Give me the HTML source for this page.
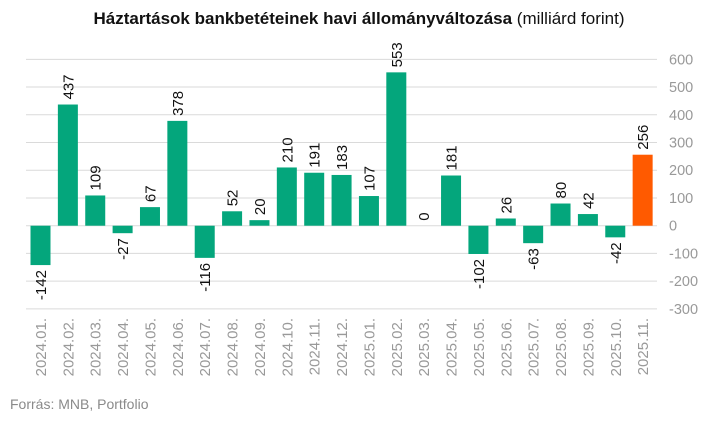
<!DOCTYPE html>
<html><head><meta charset="utf-8"><style>
body{margin:0;background:#fff;width:719px;height:416px;overflow:hidden;font-family:"Liberation Sans",sans-serif}
</style></head><body>
<svg width="719" height="416" xmlns="http://www.w3.org/2000/svg" font-family="Liberation Sans, sans-serif">
<text x="359" y="24" text-anchor="middle" font-size="17" fill="#111"><tspan font-weight="bold">Háztartások bankbetéteinek havi állományváltozása</tspan> (milliárd forint)</text>
<text x="10" y="409" font-size="14" fill="#8a8a8a">Forrás: MNB, Portfolio</text>
</svg>
<script>
(function(){
var vals=[-142,437,109,-27,67,378,-116,52,20,210,191,183,107,553,0,181,-102,26,-63,80,42,-42,256];
var labs=[];for(var i=0;i<23;i++){var yy=2024+Math.floor(i/12),m=i%12+1;labs.push(yy+"."+(m<10?"0":"")+m+".");}
var ns="http://www.w3.org/2000/svg",svg=document.querySelector("svg");
var z=225.7,k=0.2773;
function el(t,a,txt){var e=document.createElementNS(ns,t);for(var q in a)e.setAttribute(q,a[q]);if(txt!=null)e.textContent=txt;svg.appendChild(e);return e;}
for(var v=-300;v<=600;v+=100){var y=z-v*k;el("line",{x1:26,x2:657,y1:y,y2:y,stroke:"#dadada","stroke-width":1});
el("text",{x:669,y:y+5,"font-size":14.5,fill:"#999"},v);}
for(var i=0;i<23;i++){var c=40.5+i*27.37,val=vals[i],h=Math.abs(val)*k,by=val>=0?z-h:z;
if(val!==0)el("rect",{x:c-10,y:by,width:20,height:h,fill:i==22?"#ff5a00":"#04a67c"});
var ly,anchor;if(val>=0){ly=z-h-5;anchor="start";}else{ly=z+h+5;anchor="end";}
el("text",{x:0,y:0,"font-size":15,fill:"#111","text-anchor":anchor,transform:"translate("+(c+5.5)+","+ly+") rotate(-90)"},val);
el("text",{x:0,y:0,"font-size":15,fill:"#999","text-anchor":"end",transform:"translate("+(c+5.5)+",318) rotate(-90)"},labs[i]);}
})();
</script>
</body></html>
